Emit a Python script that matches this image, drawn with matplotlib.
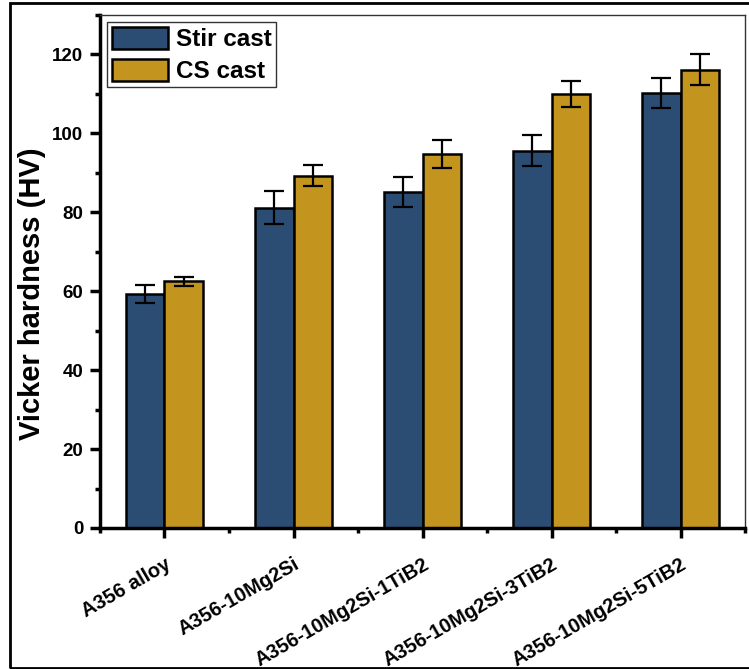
import numpy as np
import matplotlib.pyplot as plt
from matplotlib.patches import Rectangle
from matplotlib.ticker import MultipleLocator

plt.rcParams['font.family'] = ['Liberation Sans', 'DejaVu Sans']
plt.rcParams['font.weight'] = 'bold'

# Data
categories = ['A356 alloy', 'A356-10Mg2Si', 'A356-10Mg2Si-1TiB2',
              'A356-10Mg2Si-3TiB2', 'A356-10Mg2Si-5TiB2']
stir_cast = [59.4, 81.2, 85.1, 95.6, 110.3]
stir_err = [2.3, 4.2, 3.8, 3.9, 3.8]
cs_cast = [62.5, 89.3, 94.7, 110.0, 116.1]
cs_err = [1.2, 2.7, 3.5, 3.2, 3.9]

blue = '#2B4D73'
gold = '#C3951F'

fig = plt.figure(figsize=(7.49, 6.69), dpi=100)
ax = fig.add_axes([0.1335, 0.2108, 0.8612, 0.7668])

x = np.arange(len(categories))
w = 0.3
ekw = dict(elinewidth=1.6, capthick=1.6, ecolor='black')
ax.bar(x - w / 2, stir_cast, w, yerr=stir_err, capsize=7, color=blue,
       edgecolor='black', linewidth=1.8, label='Stir cast', error_kw=ekw)
ax.bar(x + w / 2, cs_cast, w, yerr=cs_err, capsize=7, color=gold,
       edgecolor='black', linewidth=1.8, label='CS cast', error_kw=ekw)

ax.set_xlim(-0.5, 4.5)
ax.set_ylim(0, 130)
ax.yaxis.set_major_locator(MultipleLocator(20))
ax.yaxis.set_minor_locator(MultipleLocator(10))
ax.set_xticks(x)
ax.xaxis.set_minor_locator(MultipleLocator(0.5))
ax.set_xticklabels(categories, rotation=30, ha='right', rotation_mode='anchor',
                   fontsize=14.5, fontweight='bold')
for lab in ax.get_yticklabels():
    lab.set_fontsize(13.5)
    lab.set_fontweight('bold')

ax.tick_params(axis='both', which='major', direction='out', length=7, width=2.5)
ax.tick_params(axis='both', which='minor', direction='out', length=3.5, width=2.5)
ax.tick_params(axis='x', which='major', pad=12)
ax.tick_params(axis='y', which='major', pad=5)

ax.spines['left'].set_linewidth(2.5)
ax.spines['bottom'].set_linewidth(2.5)
ax.spines['top'].set_linewidth(1)
ax.spines['right'].set_linewidth(1)
ax.spines['top'].set_color('#333333')
ax.spines['right'].set_color('#333333')

ax.set_ylabel('Vicker hardness (HV)', fontsize=21, fontweight='bold')
ax.yaxis.set_label_coords(-0.083, 0.456)

leg = ax.legend(loc='upper left', fontsize=17.5, handlelength=2.3, handleheight=1.05,
                labelspacing=0.3, borderpad=0.18, handletextpad=0.35,
                borderaxespad=0.3, fancybox=False, frameon=True)
leg.get_frame().set_edgecolor('black')
leg.get_frame().set_linewidth(1)
for h in leg.legend_handles:
    h.set_linewidth(1.8)

# outer frame around figure
fig.patches.append(Rectangle((10 / 749, 1.5 / 669), 1.0, 1 - 4 / 669,
                             transform=fig.transFigure, fill=False,
                             edgecolor='black', linewidth=2, clip_on=False))

fig.savefig('out.png', dpi=100)
